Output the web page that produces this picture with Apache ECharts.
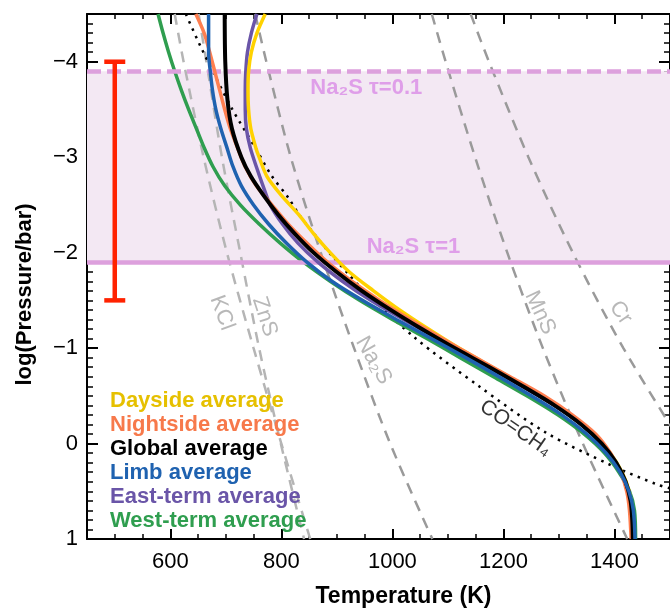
<!DOCTYPE html>
<html><head><meta charset="utf-8">
<script src="https://cdn.jsdelivr.net/npm/echarts@6/dist/echarts.min.js"></script>
<style>html,body{margin:0;padding:0;background:#fff}#c{width:670px;height:613px}</style>
</head><body><div id="c"></div>
<script>
// ---- tick labels ----
const xMajorTicks = [600, 800, 1000, 1200, 1400];
const yMajorTicks = [-4, -3, -2, -1, 0, 1];

// ---- T-P profiles: [Temperature K, log10(P/bar)] ----
const dayside = [[771,-4.5],[756,-4.3],[746,-4.1],[741,-3.9],[740,-3.7],[741,-3.5],[745,-3.3],[754,-3.1],[760,-3.0],[774,-2.8],[800,-2.6],[831,-2.4],[858,-2.2],[888,-2.0],[922,-1.8],[966,-1.6],[1013,-1.4],[1065,-1.2],[1120,-1.0],[1180,-0.8],[1240,-0.6],[1297,-0.4],[1343,-0.2],[1379,0.0],[1404,0.2],[1421,0.4],[1430,0.6],[1433,0.8],[1434,1.0]];
const nightside = [[646,-4.5],[661,-4.3],[671,-4.1],[680,-3.9],[689,-3.7],[698,-3.5],[708,-3.3],[721,-3.1],[735,-2.9],[755,-2.7],[783,-2.5],[812,-2.3],[846,-2.1],[883,-1.9],[927,-1.7],[977,-1.5],[1032,-1.3],[1090,-1.1],[1150,-0.9],[1212,-0.7],[1273,-0.5],[1324,-0.3],[1366,-0.1],[1393,0.1],[1411,0.3],[1422,0.5],[1427,0.7],[1430,1.0]];
const globalAvg = [[698,-4.5],[699,-4.0],[703,-3.6],[711,-3.3],[728,-3.0],[745,-2.8],[768,-2.6],[794,-2.4],[824,-2.2],[858,-2.0],[899,-1.8],[945,-1.6],[997,-1.4],[1053,-1.2],[1112,-1.0],[1175,-0.8],[1235,-0.6],[1292,-0.4],[1340,-0.2],[1377,0.0],[1403,0.2],[1420,0.4],[1429,0.6],[1432,0.8],[1433,1.0]];
const limb = [[669,-4.5],[669,-4.3],[669,-4.1],[672,-3.9],[676,-3.7],[682,-3.5],[691,-3.3],[702,-3.1],[713,-2.9],[728,-2.7],[750,-2.5],[777,-2.3],[809,-2.1],[846,-1.9],[891,-1.7],[946,-1.5],[1007,-1.3],[1070,-1.1],[1132,-0.9],[1192,-0.7],[1250,-0.5],[1305,-0.3],[1350,-0.1],[1385,0.1],[1410,0.3],[1426,0.5],[1434,0.7],[1437,1.0]];
const eastTerm = [[756,-4.5],[746,-4.3],[739,-4.1],[736,-3.9],[735,-3.7],[735,-3.5],[737,-3.3],[744,-3.1],[755,-2.9],[767,-2.7],[780,-2.5],[802,-2.3],[830,-2.1],[866,-1.9],[910,-1.7],[961,-1.5],[1020,-1.3],[1081,-1.1],[1142,-0.9],[1203,-0.7],[1263,-0.5],[1318,-0.3],[1360,-0.1],[1390,0.1],[1412,0.3],[1426,0.5],[1431,0.7],[1433,1.0]];
const westTerm = [[578,-4.5],[587,-4.3],[597,-4.1],[608,-3.9],[620,-3.7],[633,-3.5],[647,-3.3],[661,-3.1],[677,-2.9],[698,-2.7],[726,-2.5],[760,-2.3],[798,-2.1],[840,-1.9],[888,-1.7],[941,-1.5],[1000,-1.3],[1062,-1.1],[1122,-0.9],[1182,-0.7],[1242,-0.5],[1298,-0.3],[1345,-0.1],[1382,0.1],[1408,0.3],[1427,0.5],[1436,0.7],[1438,1.0]];

// ---- condensation curves ----
const kclCurve = [[608,-4.5],[624,-4],[660,-3],[702,-2],[750,-1],[800,0],[852,1]];
const znsCurve = [[651,-4.5],[665,-4],[693,-3],[726,-2],[760,-1],[799,0],[841,1]];
const na2sCurve = [[753,-4.5],[773,-4],[817,-3],[871,-2],[931,-1],[996,0],[1072,1]];
const mnsCurve = [[1071,-4.5],[1096,-4],[1149,-3],[1207,-2],[1271,-1],[1343,0],[1423,1]];
const crCurve = [[1141,-4.5],[1174,-4],[1245,-3],[1325,-2],[1416,-1],[1521,0]];
const coCh4Curve = [[628,-4.5],[657,-4.13],[711,-3.51],[754,-3.09],[782,-2.81],[812,-2.58],[833,-2.39],[860,-2.19],[889,-1.98],[922,-1.77],[937,-1.67],[1038,-1.12],[1156,-0.60],[1275,-0.12],[1395,0.23],[1477,0.43],[1500,0.47]];

// ---- Na2S cloud layer (log P) ----
const na2sTau01 = -3.9;
const na2sTau1 = -1.9;

// ---- error bar: [T, logP top, logP bottom] ----
const errorBar = [[500, -4.0, -1.5]];

// ---- annotation labels: [T, logP] ----
const curveLabels = [
  {name: 'KCl', value: [693, -1.37], rot: -70},
  {name: 'ZnS', value: [770, -1.33], rot: -72},
  {name: 'Na\u2082S', value: [966, -0.87], rot: -60},
  {name: 'MnS', value: [1266, -1.37], rot: -65},
  {name: 'Cr', value: [1411, -1.37], rot: -55}
];
const coLabel = [{name: 'CO=CH\u2084', value: [1222, -0.16], rot: -35}];
const cloudLabels = [
  {name: 'Na\u2082S \u03c4=0.1', value: [953, -3.73]},
  {name: 'Na\u2082S \u03c4=1', value: [1038, -2.06]}
];

const FONT = '"Liberation Sans", Arial, Helvetica, sans-serif';
const names = ['Dayside average','Nightside average','Global average','Limb average','East-term average','West-term average'];
const lineColors = {'Dayside average':'#ffd200','Nightside average':'#ff7f50','Global average':'#000000','Limb average':'#1f62b0','East-term average':'#6a55a8','West-term average':'#2f9e4f'};
const textColors = {'Dayside average':'#e6c000','Nightside average':'#f7794b','Global average':'#000000','Limb average':'#1f62b0','East-term average':'#6a55a8','West-term average':'#2f9e4f'};
const profileData = {'Dayside average':dayside,'Nightside average':nightside,'Global average':globalAvg,'Limb average':limb,'East-term average':eastTerm,'West-term average':westTerm};
const drawOrder = ['West-term average','East-term average','Dayside average','Nightside average','Global average','Limb average'];

const X_MIN = 450, X_MAX = 1500, Y_MIN = -4.5, Y_MAX = 1;
const axisLineStyle = {color: '#000', width: 2};

function xAxisDef(pos, major) {
  const a = {
    type: 'value', position: pos, min: X_MIN, max: X_MAX, gridIndex: 0,
    splitLine: {show: false},
    axisLine: {show: major, onZero: false, lineStyle: axisLineStyle},
  };
  if (major) {
    a.axisTick = {show: true, inside: true, length: 10, customValues: xMajorTicks, lineStyle: {color: '#000', width: 2}};
    a.axisLabel = {show: pos === 'bottom', customValues: xMajorTicks, fontSize: 22, color: '#000', fontFamily: FONT, margin: 12,
      formatter: v => String(v)};
    if (pos === 'bottom') {
      a.name = 'Temperature (K)';
      a.nameLocation = 'middle';
      a.nameGap = 46;
      a.nameTextStyle = {fontSize: 23, fontWeight: 'bold', color: '#000', fontFamily: FONT, padding: [0, 0, 0, 50]};
    }
  } else {
    a.interval = 50;
    a.axisTick = {show: true, inside: true, length: 5, lineStyle: {color: '#000', width: 1.5}};
    a.axisLabel = {show: false};
  }
  return a;
}
function yAxisDef(pos, major) {
  const a = {
    type: 'value', position: pos, min: Y_MIN, max: Y_MAX, inverse: true, gridIndex: 0,
    splitLine: {show: false},
    axisLine: {show: major, onZero: false, lineStyle: axisLineStyle},
  };
  if (major) {
    a.axisTick = {show: true, inside: true, length: 11, customValues: yMajorTicks, lineStyle: {color: '#000', width: 2}};
    a.axisLabel = {show: pos === 'left', customValues: yMajorTicks, fontSize: 22, color: '#000', fontFamily: FONT, margin: 9,
      formatter: v => (v < 0 ? '\u2212' + Math.abs(v) : String(v))};
    if (pos === 'left') {
      a.name = 'log(Pressure/bar)';
      a.nameLocation = 'middle';
      a.nameRotate = 90;
      a.nameGap = 51;
      a.nameTextStyle = {fontSize: 22, fontWeight: 'bold', color: '#000', fontFamily: FONT, padding: [0, 36, 0, 0]};
    }
  } else {
    a.interval = 0.1;
    a.axisTick = {show: true, inside: true, length: 6, lineStyle: {color: '#000', width: 1.5}};
    a.axisLabel = {show: false};
  }
  return a;
}

const series = [];
// Na2S cloud band
series.push({
  type: 'line', name: 'band', data: [[X_MIN, Y_MIN]], symbol: 'none', lineStyle: {opacity: 0}, silent: true, z: 1,
  markArea: {silent: true, itemStyle: {color: '#f3e8f3'}, data: [[{yAxis: na2sTau01}, {yAxis: na2sTau1}]]},
  markLine: {silent: true, symbol: ['none','none'], label: {show: false},
    data: [
      {yAxis: na2sTau01, lineStyle: {type: [14, 6], width: 4.5, color: '#dda0dd'}},
      {yAxis: na2sTau1, lineStyle: {type: 'solid', width: 4.5, color: '#dda0dd'}}
    ]}
});
// condensation curves
[[kclCurve,'#b5b5b5'],[znsCurve,'#b5b5b5'],[na2sCurve,'#9a9a9a'],[mnsCurve,'#9a9a9a'],[crCurve,'#9a9a9a']].forEach(([d,c]) => {
  series.push({type: 'line', data: d, smooth: 0.3, symbol: 'none', silent: true, z: 2,
    lineStyle: {color: c, width: 2.5, type: [11, 8]}});
});
series.push({type: 'line', data: coCh4Curve, smooth: 0.3, symbol: 'none', silent: true, z: 3,
  lineStyle: {color: '#000', width: 2.5, type: [2.5, 5.5]}});
// profiles
drawOrder.forEach((n, i) => {
  series.push({type: 'line', name: n, data: profileData[n], smooth: 0.3, symbol: 'none', silent: true, z: 4 + i,
    itemStyle: {color: lineColors[n]},
    lineStyle: {color: lineColors[n], width: n === 'Global average' ? 4 : 3.5}});
});
// error bar
series.push({
  type: 'custom', data: errorBar, silent: true, z: 20,
  encode: {x: 0, y: [1, 2]},
  renderItem: (params, api) => {
    const t = api.coord([api.value(0), api.value(1)]);
    const b = api.coord([api.value(0), api.value(2)]);
    const st = {stroke: '#ff2200', lineWidth: 4.5};
    return {type: 'group', children: [
      {type: 'line', shape: {x1: t[0], y1: t[1], x2: b[0], y2: b[1]}, style: st},
      {type: 'line', shape: {x1: t[0]-10.5, y1: t[1], x2: t[0]+10.5, y2: t[1]}, style: st},
      {type: 'line', shape: {x1: b[0]-10.5, y1: b[1], x2: b[0]+10.5, y2: b[1]}, style: st}
    ]};
  }
});
// labels
function labelSeries(items, style) {
  return {type: 'scatter', symbolSize: 1, itemStyle: {color: 'rgba(0,0,0,0)'}, silent: true, z: 25,
    data: items.map(it => ({name: it.name, value: it.value, label: {rotate: it.rot || 0}})),
    label: Object.assign({show: true, position: 'inside', formatter: '{b}', fontFamily: FONT}, style)};
}
series.push(labelSeries(curveLabels, {fontSize: 22, color: '#a6a6a6'}));
series.push(labelSeries(coLabel, {fontSize: 21, color: '#000'}));
series.push(labelSeries(cloudLabels, {fontSize: 22, fontWeight: 'bold', color: '#d98be6'}));

const chart = echarts.init(document.getElementById('c'), null, {renderer: 'canvas'});
chart.setOption({
  animation: false,
  backgroundColor: '#fff',
  textStyle: {fontFamily: FONT},
  grid: {left: 87, top: 14, right: -6, bottom: 68, containLabel: false},
  xAxis: [xAxisDef('bottom', true), xAxisDef('bottom', false), xAxisDef('top', true), xAxisDef('top', false)],
  yAxis: [yAxisDef('left', true), yAxisDef('left', false), yAxisDef('right', true), yAxisDef('right', false)],
  legend: {
    orient: 'vertical', left: 105, top: 389, padding: 0, itemGap: 0, itemWidth: 0, itemHeight: 0, icon: 'none',
    selectedMode: false,
    textStyle: {fontSize: 22, fontWeight: 'bold', lineHeight: 24, fontFamily: FONT},
    data: names.map(n => ({name: n, textStyle: {color: textColors[n]}}))
  },
  series: series
});
</script></body></html>
